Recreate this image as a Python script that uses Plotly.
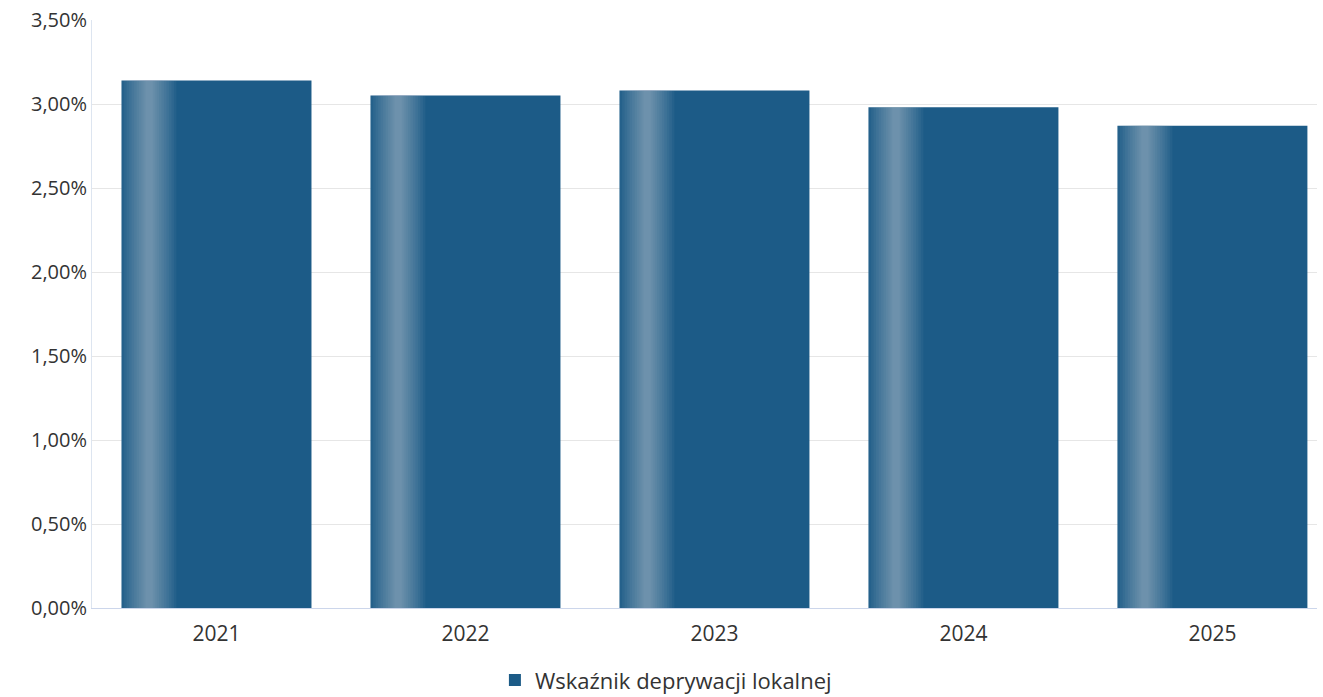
import plotly.graph_objects as go

years = ["2021", "2022", "2023", "2024", "2025"]
values = [3.14, 3.05, 3.08, 2.98, 2.87]
series_name = "Wskaźnik deprywacji lokalnej"
y_ticks = [0, 0.5, 1.0, 1.5, 2.0, 2.5, 3.0, 3.5]
y_tick_labels = ["0,00%", "0,50%", "1,00%", "1,50%", "2,00%", "2,50%", "3,00%", "3,50%"]

BAR_W = 0.763
BASE = "#1c5b87"

fig = go.Figure()
fig.add_trace(go.Bar(
    x=years, y=values, name=series_name,
    marker=dict(color=BASE, line=dict(width=0)),
    width=BAR_W, offset=-BAR_W / 2,
    hovertemplate="%{x}: %{y:.2f}%<extra></extra>",
))

# decorative highlight: nested translucent layers centred on a band
band_center = -BAR_W / 2 + 0.145 * BAR_W
half_widths = [0.11, 0.1, 0.09, 0.08, 0.07, 0.06, 0.05, 0.04, 0.031, 0.023, 0.015]
for hw in half_widths:
    fig.add_trace(go.Bar(
        x=years, y=values, showlegend=False, hoverinfo="skip",
        marker=dict(color="#e3e9f0", opacity=0.047, line=dict(width=0)),
        width=2 * hw, offset=band_center - hw,
    ))

fig.update_layout(
    width=1323, height=697,
    margin=dict(l=92, r=6, t=20, b=89),
    paper_bgcolor="white", plot_bgcolor="white",
    barmode="overlay",
    font=dict(family="Open Sans", size=20, color="#333333"),
    showlegend=True,
    legend=dict(orientation="h", x=0.4685, xanchor="center",
                yref="container", y=0.024, yanchor="middle",
                font=dict(size=22, color="#333333")),
    xaxis=dict(
        range=[-0.5, 4.42], showgrid=False, showline=True, linecolor="#ccd6eb",
        linewidth=1, ticks="", tickfont=dict(size=21), zeroline=False,
        automargin=False, ticklabelstandoff=7,
    ),
    yaxis=dict(
        range=[0, 3.5], tickvals=y_ticks, ticktext=y_tick_labels,
        showgrid=True, gridcolor="#e6e6e6", gridwidth=1, zeroline=False,
        showline=True, linecolor="#dde5f0", linewidth=1, ticks="",
        tickfont=dict(size=20), automargin=False, ticklabeloverflow="allow",
    ),
)

fig.write_html("out.html", config={"displayModeBar": False},
               post_script="document.body.style.margin='0';")
